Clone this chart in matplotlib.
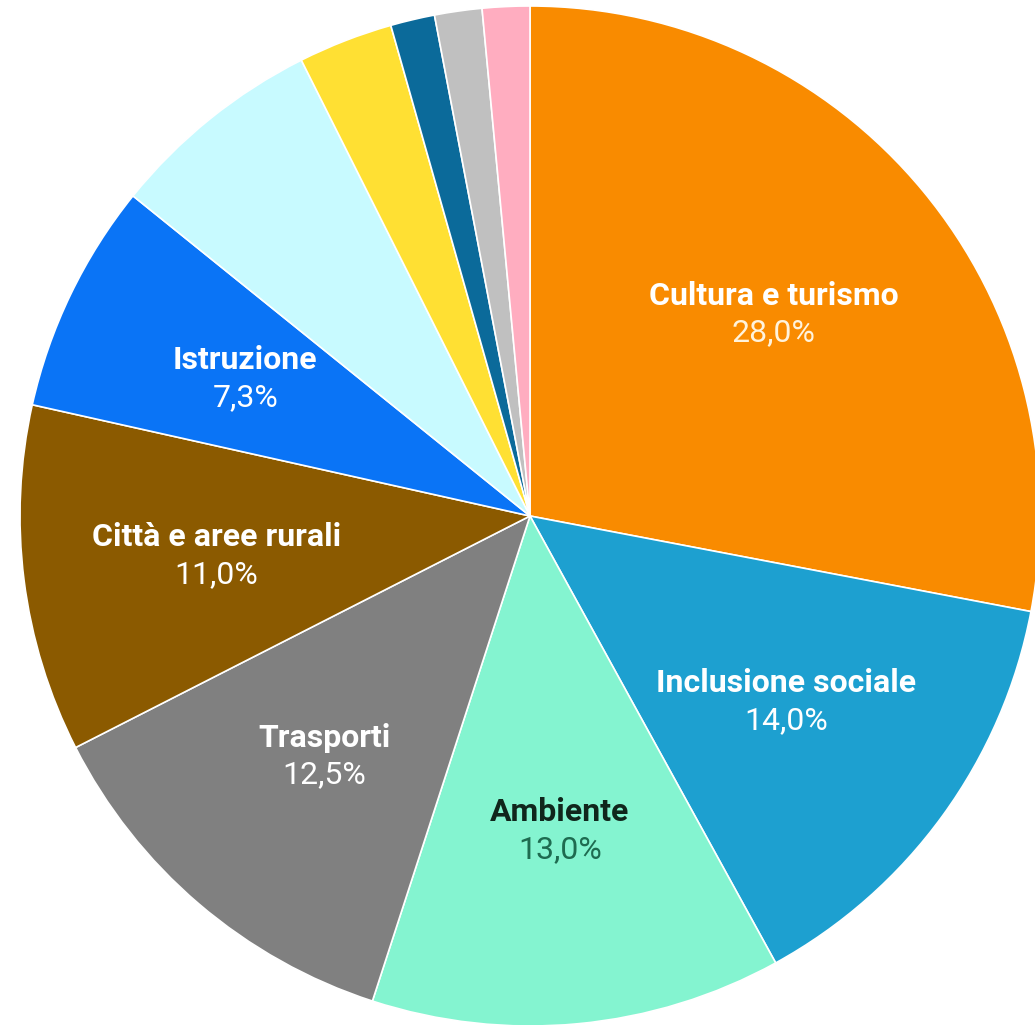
import numpy as np
import matplotlib.pyplot as plt

# dati del grafico (percentuali, in senso orario dall'alto)
settori = ['Cultura e turismo', 'Inclusione sociale', 'Ambiente', 'Trasporti',
           'Città e aree rurali', 'Istruzione', '', '', '', '', '']
valori = [28.0, 14.0, 13.0, 12.5, 11.0, 7.3, 6.8, 3.0, 1.4, 1.5, 1.5]
etichette_pct = ['28,0%', '14,0%', '13,0%', '12,5%', '11,0%', '7,3%', '', '', '', '', '']
colori = ['#F98B00', '#1DA0D0', '#84F4D0', '#808080', '#8B5A00', '#0A74F6',
          '#C8FAFF', '#FFE033', '#0B6A9A', '#C0C0C0', '#FFADC0']
colori_testo = ['white', 'white', '#10261C', 'white', 'white', 'white',
                'white', 'white', 'white', 'white', 'white']
colori_pct = ['#FFF3DC', 'white', '#1E6B50', 'white', 'white', 'white',
              'white', 'white', 'white', 'white', 'white']

W, H = 1035, 1025
cx, cy, R = 530, 516, 510   # centro e raggio in pixel

fig = plt.figure(figsize=(W / 100, H / 100), dpi=100)
ax = fig.add_axes([0, 0, 1, 1])

wedges, _ = ax.pie(valori, colors=colori, startangle=90, counterclock=False,
                   wedgeprops=dict(edgecolor='white', linewidth=1.2))

ax.set_xlim(-cx / R, (W - cx) / R)
ax.set_ylim(-(H - cy) / R, cy / R)
ax.set_aspect('auto')
ax.axis('off')

dist = 0.62
off = 18.5 / R
for w, nome, pct, ct, cp in zip(wedges, settori, etichette_pct, colori_testo, colori_pct):
    if not nome:
        continue
    ang = np.deg2rad((w.theta1 + w.theta2) / 2)
    x, y = dist * np.cos(ang), dist * np.sin(ang)
    ax.text(x, y + off, nome, ha='center', va='center', fontsize=23,
            fontweight='bold', family=['Roboto', 'DejaVu Sans'], color=ct)
    ax.text(x, y - off, pct, ha='center', va='center', fontsize=23,
            family=['Roboto', 'DejaVu Sans'], color=cp)

fig.savefig('out.png', dpi=100)
